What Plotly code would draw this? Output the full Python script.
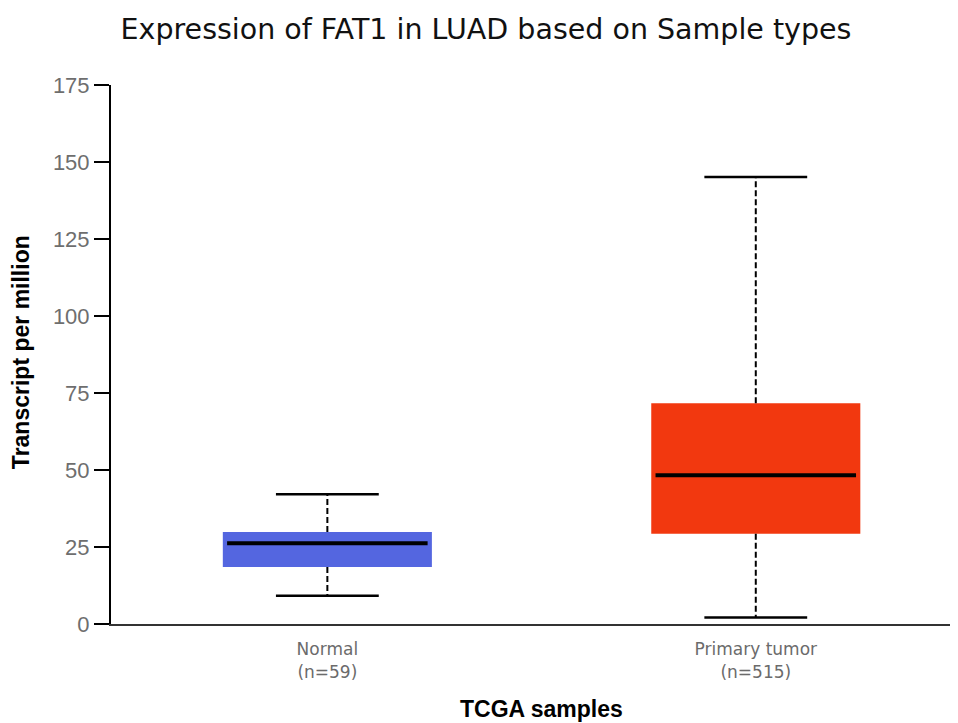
import numpy as np
import plotly.graph_objects as go

categories = ["Normal", "Primary tumor"]
counts = [59, 515]
minimum = [9.2, 2.1]
q1 = [18.5, 29.3]
median = [26.2, 48.3]
q3 = [29.9, 71.7]
maximum = [42.1, 145.1]
colors = ["#5466E0", "#F2380F"]
y_ticks = [0, 25, 50, 75, 100, 125, 150, 175]

pos = np.arange(len(categories))
box_w = 0.488
cap_w = 0.24

fig = go.Figure()

fig.add_trace(go.Bar(
    x=pos, y=np.array(q3) - np.array(q1), base=q1, width=box_w,
    marker=dict(color=colors, line=dict(width=0)), hoverinfo="skip", showlegend=False))

for i, c in enumerate(pos):
    # whiskers (dashed)
    fig.add_trace(go.Scatter(
        x=[c, c, None, c, c], y=[q3[i], maximum[i], None, q1[i], minimum[i]],
        mode="lines", line=dict(color="black", width=2, dash="6px,3px"),
        hoverinfo="skip", showlegend=False))
    # caps
    fig.add_trace(go.Scatter(
        x=[c - cap_w / 2, c + cap_w / 2, None, c - cap_w / 2, c + cap_w / 2],
        y=[maximum[i], maximum[i], None, minimum[i], minimum[i]],
        mode="lines", line=dict(color="black", width=2.5),
        hoverinfo="skip", showlegend=False))
    # median
    fig.add_trace(go.Scatter(
        x=[c - box_w / 2 + 0.01, c + box_w / 2 - 0.01], y=[median[i], median[i]],
        mode="lines", line=dict(color="black", width=4),
        hoverinfo="skip", showlegend=False))

ticktext = [f"{c}<br>(n={n})" for c, n in zip(categories, counts)]

# page body has an 8px default margin: figure is 950x715 drawn at (8,8)
W, H, OFF = 950, 715, 8
fig.update_layout(
    width=W, height=H,
    margin=dict(l=111 - OFF, r=0, t=85 - OFF, b=99),
    plot_bgcolor="white", paper_bgcolor="white",
    title=dict(text="Expression of FAT1 in LUAD based on Sample types",
               x=(486 - OFF) / W, xanchor="center", y=1 - (29 - OFF) / H, yanchor="middle",
               font=dict(family="DejaVu Sans", size=28.5, color="#111111")),
    xaxis=dict(range=[-0.505, 1.472], tickvals=list(pos), ticktext=ticktext,
               showgrid=False, zeroline=False, showline=True, linecolor="#333333", linewidth=2,
               ticks="", ticklabelstandoff=9,
               tickfont=dict(family="DejaVu Sans", size=17, color="#6b6b6b")),
    yaxis=dict(range=[0, 175], tickvals=y_ticks, showgrid=False, zeroline=False,
               showline=True, linecolor="black", linewidth=2,
               ticks="outside", ticklen=15, tickwidth=2, tickcolor="black",
               tickfont=dict(family="Liberation Sans, Arial", size=22, color="#6e6e6e")),
    annotations=[
        dict(text="<b>Transcript per million</b>", xref="paper", yref="paper",
             x=(21 - 111) / 847, y=(623.7 - 352) / 538.7, textangle=-90, showarrow=False,
             xanchor="center", yanchor="middle",
             font=dict(family="Liberation Sans, Arial", size=23, color="black")),
        dict(text="<b>TCGA samples</b>", xref="paper", yref="paper",
             x=(541 - 111) / 847, y=(623.7 - 709) / 538.7, showarrow=False,
             xanchor="center", yanchor="middle",
             font=dict(family="Liberation Sans, Arial", size=23, color="black")),
    ],
)

fig.write_html("out.html")
